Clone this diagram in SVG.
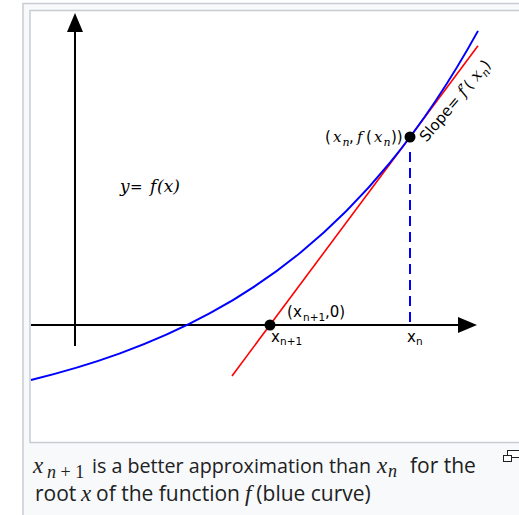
<svg xmlns="http://www.w3.org/2000/svg" width="519" height="515" viewBox="0 0 519 515">
<style>
.frame{stroke:#c8ccd1;stroke-width:1.5}
.axis{stroke:#000;stroke-width:2;fill:none}
.curve{stroke:#0000ff;stroke-width:2;fill:none}
.tangent{stroke:#ff0000;stroke-width:1.6;fill:none}
.dash{stroke:#0000ff;stroke-width:2;stroke-dasharray:10,6;fill:none}
.dot{fill:#000}
.lbl{font-family:"DejaVu Sans",sans-serif;font-size:15px;fill:#000}
.mi{font-family:"DejaVu Serif",serif;font-style:italic}
.cap{font-family:"Open Sans",sans-serif;font-size:21px;fill:#202122}
.capm{font-family:"Liberation Serif",serif;font-style:italic;font-size:23px}
.capsub{font-family:"Liberation Serif",serif;font-size:18px}
</style>
<defs>
<marker id="arrow" markerUnits="userSpaceOnUse" markerWidth="19" markerHeight="16" refX="0" refY="8" orient="auto">
<path d="M0,0 L19,8 L0,16 z" fill="#000"/>
</marker>
</defs>
<g id="frame">
<rect x="23" y="3.5" width="520" height="540" fill="#f8f9fa" class="frame"/>
<rect x="30" y="10.5" width="520" height="432" fill="#ffffff" class="frame"/>
</g>
<g id="axes">
<line class="axis" x1="75" y1="346" x2="75" y2="32" marker-end="url(#arrow)"/>
<line class="axis" x1="31" y1="325" x2="458" y2="325" marker-end="url(#arrow)"/>
</g>
<g id="connectors">
<line class="dash" x1="410" y1="152" x2="410" y2="325"/>
<line class="tangent" x1="232" y1="376" x2="478" y2="45.7"/>
<path class="curve" d="M31,380 C60.67,372.78 90.33,364.17 120,353.42 C150,342.55 180,329.53 210,313.24 C240,296.95 270,277.41 300,252.99 C330,228.57 360,199.28 390,162.66 C419.33,126.86 448.67,84.08 478,30.88"/>
</g>
<g id="point-xn">
<circle class="dot" cx="410" cy="137" r="5.5"/>
<text class="lbl" y="142"><tspan x="325">(</tspan><tspan class="mi" x="333">x</tspan><tspan class="mi" x="342.5" dy="4" font-size="11">n</tspan><tspan x="349" dy="-4">,</tspan><tspan class="mi" x="357">f</tspan><tspan x="366">(</tspan><tspan class="mi" x="374">x</tspan><tspan class="mi" x="383.5" dy="4" font-size="11">n</tspan><tspan x="391" dy="-4">))</tspan></text>
</g>
<g id="slope-label">
<text class="lbl" text-anchor="middle" transform="translate(459,104) rotate(-50)">Slope= <tspan class="mi" font-size="16">f′</tspan>( <tspan class="mi" font-size="16">x</tspan><tspan class="mi" font-size="11" dy="4">n</tspan><tspan dy="-4">)</tspan></text>
</g>
<g id="curve-label">
<text class="lbl" y="192"><tspan class="mi" x="120" font-size="17">y</tspan><tspan x="130">=</tspan><tspan class="mi" x="150" font-size="17">f</tspan><tspan x="157" class="mi" font-size="17">(x)</tspan></text>
</g>
<g id="point-xn1">
<circle class="dot" cx="270" cy="325" r="5.5"/>
<text class="lbl" y="317"><tspan x="287">(</tspan><tspan x="293">x</tspan><tspan font-size="10.5" x="303" dy="4">n+1</tspan><tspan x="325" dy="-4">,0)</tspan></text>
</g>
<g id="tick-labels">
<text class="lbl" y="342"><tspan x="271">x</tspan><tspan font-size="10.5" x="280" dy="3">n+1</tspan></text>
<text class="lbl" y="342"><tspan x="407">x</tspan><tspan font-size="10.5" x="416" dy="3">n</tspan></text>
</g>
<g id="caption">
<text class="cap" y="473"><tspan class="capm" x="33">x</tspan><tspan class="capsub" x="47" dy="5"><tspan style="font-style:italic">n</tspan> + 1</tspan><tspan x="92" dy="-5" font-size="20" textLength="279" lengthAdjust="spacingAndGlyphs">is a better approximation than</tspan><tspan class="capm" x="377">x</tspan><tspan class="capsub" x="388" dy="4" style="font-style:italic">n</tspan><tspan x="410" dy="-4">for the</tspan></text>
<text class="cap" y="501"><tspan x="35">root</tspan><tspan class="capm" x="81">x</tspan><tspan x="96">of the function</tspan><tspan class="capm" dx="5">f</tspan><tspan dx="5">(blue curve)</tspan></text>
</g>
<g id="enlarge-icon" fill="#ffffff" stroke="#202122" stroke-width="1">
<rect x="507.5" y="450.5" width="14" height="7"/>
<rect x="503.5" y="455.5" width="8" height="6"/>
</g>
</svg>
